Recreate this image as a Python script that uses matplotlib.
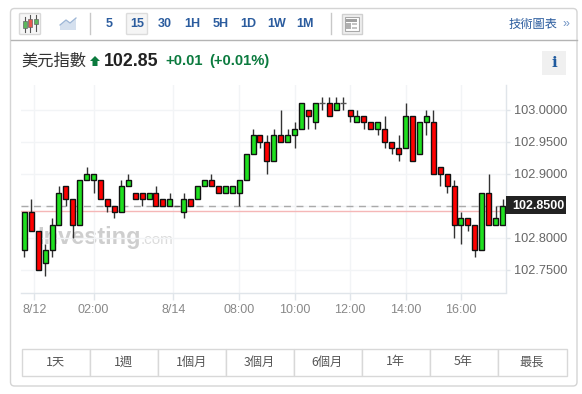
import matplotlib
matplotlib.use("Agg")
import matplotlib.pyplot as plt
from matplotlib.patches import FancyBboxPatch, Rectangle, Polygon

opens = [102.78,102.84,102.81,102.76,102.78,102.82,102.88,102.86,102.82,102.89,
         102.89,102.89,102.86,102.85,102.84,102.88,102.87,102.87,102.86,102.87,
         102.86,102.85,102.85,102.84,102.86,102.86,102.88,102.89,102.88,102.87,
         102.87,102.87,102.89,102.93,102.96,102.95,102.92,102.96,102.95,102.96,
         102.97,103.00,102.98,103.01,103.01,103.00,103.01,103.00,102.98,102.99,
         102.98,102.97,102.97,102.95,102.94,102.94,102.99,102.93,102.98,102.98,
         102.91,102.90,102.88,102.82,102.83,102.82,102.78,102.87,102.82,102.82]
closes = [102.84,102.81,102.75,102.78,102.82,102.87,102.86,102.82,102.89,102.90,
          102.90,102.86,102.85,102.84,102.88,102.89,102.86,102.86,102.87,102.85,
          102.85,102.86,102.85,102.86,102.85,102.88,102.89,102.88,102.87,102.88,
          102.88,102.89,102.93,102.96,102.95,102.92,102.96,102.95,102.96,102.97,
          103.01,102.99,103.01,103.01,102.99,103.01,103.01,102.99,102.99,102.98,
          102.97,102.98,102.95,102.94,102.93,102.99,102.92,102.98,102.99,102.90,
          102.90,102.88,102.82,102.83,102.82,102.78,102.87,102.82,102.83,102.85]
highs = [102.84,102.86,102.81,102.79,102.83,102.88,102.88,102.86,102.89,102.91,
         102.90,102.89,102.86,102.85,102.89,102.90,102.87,102.87,102.87,102.88,
         102.86,102.87,102.85,102.87,102.86,102.88,102.89,102.90,102.88,102.88,
         102.88,102.89,102.93,102.97,102.96,102.96,102.97,103.00,102.97,102.98,
         103.01,103.00,103.01,103.02,103.02,103.02,103.02,103.00,103.00,102.99,
         102.98,102.98,102.99,102.95,102.96,103.01,102.99,102.98,103.00,103.00,
         102.91,102.90,102.89,102.84,102.83,102.82,102.87,102.90,102.85,102.86]
lows = [102.77,102.81,102.75,102.74,102.77,102.82,102.85,102.80,102.82,102.89,
        102.87,102.86,102.84,102.83,102.84,102.88,102.86,102.85,102.86,102.85,
        102.85,102.85,102.85,102.83,102.85,102.86,102.88,102.88,102.87,102.87,
        102.87,102.85,102.89,102.93,102.94,102.90,102.92,102.95,102.95,102.94,
        102.97,102.97,102.97,103.00,102.99,103.00,103.00,102.98,102.98,102.97,
        102.97,102.96,102.94,102.93,102.92,102.94,102.92,102.93,102.96,102.90,
        102.88,102.87,102.80,102.79,102.81,102.77,102.78,102.82,102.82,102.82]

last_price = 102.85
prev_close = 102.841
y_ticks = [102.75, 102.80, 102.85, 102.90, 102.95, 103.00]
x_tick_pos = [1.44, 10, 21.5, 31, 39, 47, 55, 63]
x_tick_labels = ["8/12", "02:00", "8/14", "08:00", "10:00", "12:00", "14:00", "16:00"]
intervals = ["5", "15", "30", "1H", "5H", "1D", "1W", "1M"]
ranges = ["1天", "1週", "1個月", "3個月", "6個月", "1年", "5年", "最長"]

W, H = 582, 394
LAT = ["Liberation Sans", "Noto Sans CJK TC"]
CJK = ["Noto Sans CJK TC", "Liberation Sans"]
BLUE = "#2b5c9e"
GREEN = "#0b7a3e"

fig = plt.figure(figsize=(W / 100, H / 100), dpi=100, facecolor="white")

# page furniture, in pixel coordinates
bg = fig.add_axes([0, 0, 1, 1], zorder=0)
bg.set_xlim(0, W)
bg.set_ylim(H, 0)
bg.axis("off")
bg.add_patch(FancyBboxPatch((10.5, 8.5), 566.5, 377.5, boxstyle="round,pad=0,rounding_size=4",
                            fc="white", ec="#d4d4d4", lw=1))
bg.plot([10.5, 577], [39.5, 39.5], color="#b4b4b4", lw=1)
for sx in (89.5, 330.5):
    bg.plot([sx, sx], [13, 34], color="#c8c8c8", lw=1)

# chart type icons
bg.add_patch(FancyBboxPatch((19.5, 13.5), 21, 21, boxstyle="round,pad=0,rounding_size=1",
                            fc="#f6f6f6", ec="#d8d8d8", lw=1))
for cx, top, bot, b0, b1, col in [(24.5, 17, 32, 21, 28, "#5cb85c"), (30, 15, 32, 19, 27, "#e8584f"),
                                  (36, 15, 31, 19, 24, "#5cb85c")]:
    bg.plot([cx, cx], [top, bot], color="#555555", lw=0.8)
    bg.add_patch(Rectangle((cx - 2, b0), 4, b1 - b0, fc=col, ec="#666666", lw=0.5, zorder=3))
bg.add_patch(Polygon([(60, 30), (60, 25), (66, 20), (70, 23), (76, 18), (76, 30)], fc="#d5e0ee", ec="none"))
bg.plot([60, 66, 70, 76], [25, 20, 23, 18], color="#9db6d6", lw=0.9)

# article icon
bg.add_patch(Rectangle((341.5, 14), 20, 20, fc="#f0f0f0", ec="#d0d0d0", lw=1))
bg.add_patch(Rectangle((344.5, 17), 14, 14, fc="white", ec="#a8a8a8", lw=0.8))
bg.add_patch(Rectangle((346, 18.5), 11, 3, fc="#a0a0a0", ec="none"))
bg.add_patch(Rectangle((346, 23), 5, 6, fc="#b0b0b0", ec="none"))
bg.add_patch(Rectangle((352, 23), 5, 2, fc="#c4c4c4", ec="none"))
bg.add_patch(Rectangle((352, 27), 5, 2, fc="#c4c4c4", ec="none"))

# interval buttons
bg.add_patch(FancyBboxPatch((126.5, 13.5), 21, 21, boxstyle="round,pad=0,rounding_size=1",
                            fc="#f5f5f5", ec="#dcdcdc", lw=1))
for label, bx in zip(intervals, [109, 137, 164.5, 192.5, 220.5, 248.5, 276.5, 305]):
    bg.text(bx, 24, label, ha="center", va="center", fontsize=9, fontweight="bold", color=BLUE, family=LAT)

bg.text(533, 24, "技術圖表", ha="center", va="center", fontsize=8.8, color=BLUE, family=CJK)
bg.text(566, 23.5, "»", ha="center", va="center", fontsize=9, color="#6f93c4", family=LAT)

# quote line
bg.text(21, 61, "美元指數", ha="left", va="center", fontsize=11.7, color="#333333", family=CJK)
bg.add_patch(Polygon([(90, 61), (95, 56), (100, 61), (97.5, 61), (97.5, 66), (92.5, 66), (92.5, 61)],
                     fc=GREEN, ec="none"))
bg.text(104, 61, "102.85", ha="left", va="center", fontsize=12.8, fontweight="bold", color="#222222", family=LAT)
bg.text(165, 61, "+0.01", ha="left", va="center", fontsize=10.7, fontweight="bold", color=GREEN, family=LAT)
bg.text(209.5, 61, "(+0.01%)", ha="left", va="center", fontsize=10.6, fontweight="bold", color=GREEN, family=LAT)
bg.add_patch(Rectangle((542, 51), 24, 24, fc="#f0f0f0", ec="none"))
bg.text(554, 63, "i", ha="center", va="center", fontsize=11, fontweight="bold", color="#1f5a9e", family="DejaVu Serif")

# watermark
bg.text(37, 237, "Investing", ha="left", va="center", fontsize=16.9, fontweight="bold", color="#cecece", family=LAT)
bg.text(140.5, 240, ".com", ha="left", va="center", fontsize=11, color="#dcdcdc", family=LAT)

# range buttons
edges = [21.5, 89.5, 157.5, 225.5, 293.5, 361.5, 429.5, 497.5, 566.5]
for left, right, label in zip(edges[:-1], edges[1:], ranges):
    bg.add_patch(Rectangle((left, 348.5), right - left, 27, fc="white", ec="#d8d8d8", lw=1))
    bg.text((left + right) / 2, 362, label, ha="center", va="center", fontsize=8.8, color="#555555", family=CJK)

# candlestick chart
x0, x1, y0, y1 = 21, 506, 85, 292.5
ax = fig.add_axes([x0 / W, 1 - y1 / H, (x1 - x0) / W, (y1 - y0) / H], zorder=2)
ax.patch.set_alpha(0)
ax.set_xlim(-0.476, 69.5)
ax.set_ylim(102.7141, 103.0383)

ax.grid(True, color="#f2f4f6", lw=1)
ax.set_axisbelow(True)
for side in ("top", "left"):
    ax.spines[side].set_visible(False)
for side in ("bottom", "right"):
    ax.spines[side].set_color("#e0e5ea")
    ax.spines[side].set_linewidth(1)

ax.axhline(prev_close, color="#f5b7b7", lw=1, zorder=1)
ax.axhline(last_price, color="#aaaaaa", lw=1, dashes=(5, 4), zorder=1)

idx = list(range(len(opens)))
ax.vlines(idx, lows, highs, color="#333333", lw=1, zorder=3)
for i, o, c in zip(idx, opens, closes):
    if o == c:
        ax.hlines(o, i - 0.42, i + 0.42, color="#555555", lw=1, zorder=4)
    else:
        ax.bar(i, c - o, bottom=o, width=0.72, color="#1fe01f" if c > o else "#ff0000",
               edgecolor="#111111", linewidth=1, zorder=4)

ax.set_xticks(x_tick_pos, x_tick_labels)
ax.set_yticks(y_ticks, [f"{v:.4f}" if v != last_price else "" for v in y_ticks])
ax.yaxis.tick_right()
ax.tick_params(axis="x", length=5, width=1, color="#e0e5ea", labelcolor="#888888", labelsize=9, pad=3)
ax.tick_params(axis="y", length=3, width=1, color="#e0e5ea", labelcolor="#666666", labelsize=9.2, pad=3)
for t in ax.get_xticklabels() + ax.get_yticklabels():
    t.set_family(LAT)

# last price flag
bg2 = fig.add_axes([0, 0, 1, 1], zorder=3)
bg2.set_xlim(0, W)
bg2.set_ylim(H, 0)
bg2.axis("off")
bg2.add_patch(Rectangle((506, 196), 60, 18, fc="#222222", ec="none"))
bg2.text(512, 206, f"{last_price:.4f}", ha="left", va="center", fontsize=9, fontweight="bold",
         color="white", family=LAT)

fig.savefig("out.png", dpi=100)
